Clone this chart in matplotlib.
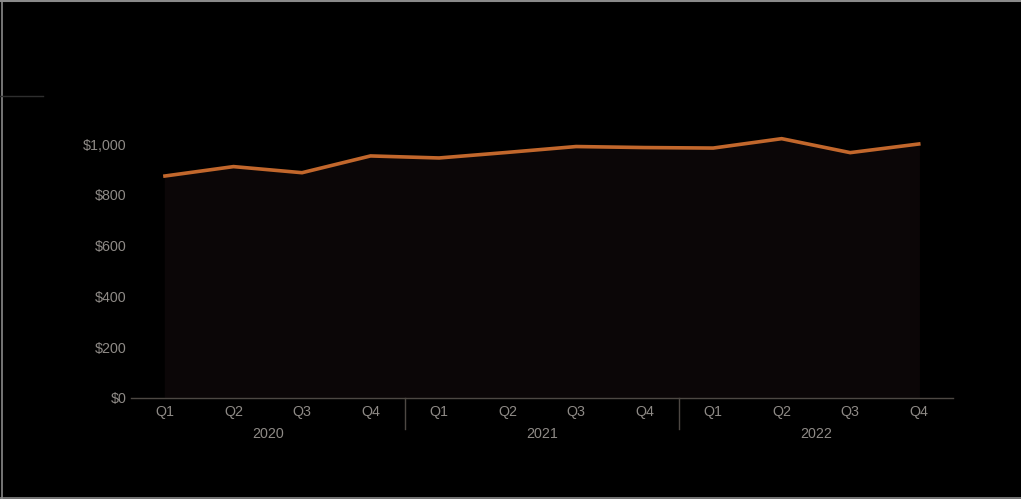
import matplotlib.pyplot as plt
from matplotlib.lines import Line2D

# quarterly values, 2020-2022
years = ["2020", "2021", "2022"]
quarters = ["Q1", "Q2", "Q3", "Q4"]
values = [874, 911, 887, 953, 945, 967, 990, 986, 984, 1021, 966, 1000]
y_ticks = [0, 200, 400, 600, 800, 1000]

plt.rcParams['font.family'] = ['Liberation Sans', 'DejaVu Sans']
txt_color = '#8e8a86'
fsize = 10.3

fig = plt.figure(figsize=(10.21, 4.99), dpi=100, facecolor='black')
ax = fig.add_axes([130.7 / 1021, 1 - 398 / 499, (953 - 130.7) / 1021, (398 - 118.6) / 499])
ax.set_facecolor('black')

x = list(range(len(values)))
ax.fill_between(x, 0, values, color='#0b0607', zorder=1)
ax.plot(x, values, color='#c2672c', lw=2.6, solid_joinstyle='miter', zorder=3)

ax.set_xlim(-0.5, len(values) - 0.5)
ax.set_ylim(0, 1100)

ax.set_yticks(y_ticks)
ax.set_yticklabels(["${:,}".format(v) for v in y_ticks])
ax.tick_params(axis='y', length=0, pad=3, labelsize=fsize, labelcolor=txt_color)

ax.set_xticks(x)
ax.set_xticklabels(quarters * len(years))
ax.tick_params(axis='x', length=0, pad=5, labelsize=fsize, labelcolor=txt_color)

for s in ['top', 'right', 'left']:
    ax.spines[s].set_visible(False)
ax.spines['bottom'].set_color('#4d4843')
ax.spines['bottom'].set_linewidth(1)

# year labels and separators under the quarter ticks
trans = ax.get_xaxis_transform()
for i, yr in enumerate(years):
    ax.text(i * 4 + 1.5, -0.13, yr, transform=trans, ha='center', va='center',
            fontsize=fsize, color=txt_color)
    if i > 0:
        ax.plot([i * 4 - 0.5, i * 4 - 0.5], [0, -0.11], transform=trans,
                color='#4d4843', lw=1, clip_on=False)

# frame and small rule at top left
fig.add_artist(Line2D([0, 1], [1 - 1 / 499, 1 - 1 / 499], transform=fig.transFigure,
                      color='#8a8a8a', lw=1.5))
fig.add_artist(Line2D([1.5 / 1021, 1.5 / 1021], [0, 1], transform=fig.transFigure,
                      color='#8a8a8a', lw=1.2))
fig.add_artist(Line2D([0, 1], [1.5 / 499, 1.5 / 499], transform=fig.transFigure,
                      color='#8a8a8a', lw=1.2))
fig.add_artist(Line2D([0, 43 / 1021], [1 - 96 / 499, 1 - 96 / 499], transform=fig.transFigure,
                      color='#2e2e2e', lw=1))

fig.savefig('out.png', dpi=100, facecolor='black')
